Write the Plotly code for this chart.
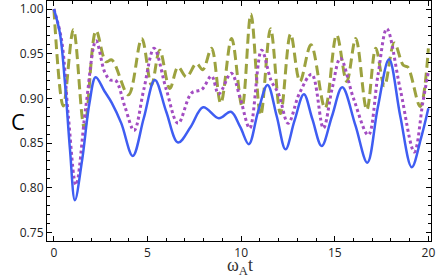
import plotly.graph_objects as go

# ---- data ----
t_blue = [0, 0.32, 0.59, 0.86, 1.12, 1.5, 1.9, 2.23, 2.7, 3.09, 3.6, 4.21, 4.8, 5.39, 6.0, 6.63, 7.3, 7.97, 8.81, 9.45, 9.95, 10.41, 10.9, 11.41, 11.9, 12.37, 12.85, 13.35, 13.8, 14.3, 14.85, 15.4, 16.1, 16.74, 17.3, 17.9, 18.5, 19.11, 19.6, 20.0]
c_blue = [1.0, 0.973, 0.917, 0.842, 0.786, 0.83, 0.895, 0.9236, 0.908, 0.895, 0.872, 0.8356, 0.878, 0.9206, 0.885, 0.8505, 0.868, 0.890, 0.8777, 0.885, 0.868, 0.8487, 0.885, 0.915, 0.88, 0.843, 0.875, 0.9046, 0.877, 0.8467, 0.88, 0.9124, 0.87, 0.828, 0.89, 0.9437, 0.88, 0.823, 0.855, 0.889]

t_purple = [0, 0.41, 0.77, 1.18, 1.7, 2.25, 2.7, 3.0, 3.3, 3.8, 4.28, 4.8, 5.35, 6.0, 6.63, 7.35, 7.9, 8.42, 8.8, 9.47, 9.95, 10.46, 11.09, 11.6, 12.0, 12.51, 13.1, 13.77, 14.39, 14.85, 15.3, 16.0, 16.79, 17.3, 17.78, 18.5, 19.25, 19.7, 20.0]
c_purple = [1.0, 0.965, 0.88, 0.803, 0.89, 0.9645, 0.93, 0.9206, 0.92, 0.89, 0.864, 0.91, 0.956, 0.91, 0.872, 0.906, 0.91, 0.925, 0.905, 0.928, 0.90, 0.8666, 0.954, 0.92, 0.905, 0.872, 0.905, 0.927, 0.8666, 0.91, 0.945, 0.90, 0.859, 0.925, 0.978, 0.91, 0.840, 0.895, 0.930]

t_olive = [0, 0.5, 1.04, 1.63, 2.25, 2.78, 3.09, 3.98, 4.69, 5.21, 5.65, 6.19, 6.63, 7.08, 7.61, 7.95, 8.42, 8.91, 9.49, 10.05, 10.52, 11.04, 11.57, 12.1, 12.64, 13.14, 13.73, 14.48, 15.1, 15.64, 16.12, 16.71, 17.19, 17.65, 18.18, 18.66, 18.9, 19.56, 20.0]
c_olive = [1.0, 0.8915, 0.977, 0.8666, 0.9757, 0.941, 0.943, 0.904, 0.967, 0.915, 0.954, 0.911, 0.935, 0.924, 0.939, 0.932, 0.956, 0.8945, 0.967, 0.891, 0.9944, 0.881, 0.978, 0.883, 0.972, 0.919, 0.960, 0.889, 0.971, 0.919, 0.967, 0.887, 0.956, 0.914, 0.962, 0.937, 0.935, 0.891, 0.956]

x_ticks = [0, 5, 10, 15, 20]
y_ticks = [0.75, 0.80, 0.85, 0.90, 0.95, 1.00]
y_tick_labels = ["0.75", "0.80", "0.85", "0.90", "0.95", "1.00"]

BLUE = "#3F5DF2"
PURPLE = "#A34DC2"
OLIVE = "#9CA23F"

fig = go.Figure()
fig.add_trace(go.Scatter(x=t_olive, y=c_olive, mode="lines",
                         line=dict(color=OLIVE, width=3, dash="10px,5px", shape="spline", smoothing=1.0)))
fig.add_trace(go.Scatter(x=t_purple, y=c_purple, mode="lines",
                         line=dict(color=PURPLE, width=3, dash="3px,3px", shape="spline", smoothing=1.0)))
fig.add_trace(go.Scatter(x=t_blue, y=c_blue, mode="lines",
                         line=dict(color=BLUE, width=2.5, shape="spline", smoothing=1.0)))

axis_common = dict(showgrid=False, zeroline=False, showline=True, linecolor="black", linewidth=1.2,
                   mirror="allticks", ticks="inside", ticklen=5, tickcolor="black", tickwidth=1,
                   automargin=False, ticklabeloverflow="allow",
                   tickfont=dict(family="Open Sans", size=12, color="#222"))

fig.update_xaxes(range=[-0.37, 20.14], tickvals=x_ticks,
                 minor=dict(ticks="inside", dtick=1, ticklen=3, tickcolor="black"),
                 **axis_common)
fig.update_yaxes(range=[0.7403, 1.009], tickvals=y_ticks, ticktext=y_tick_labels,
                 minor=dict(ticks="inside", dtick=0.01, ticklen=3, tickcolor="black"),
                 **axis_common)

fig.add_annotation(text="C", x=-0.1, y=0.50, xref="paper", yref="paper", showarrow=False,
                   font=dict(family="Open Sans", size=22, color="black"))
fig.add_annotation(text="ω<sub>A</sub>t", x=0.503, y=-0.056, yanchor="top", xref="paper", yref="paper",
                   showarrow=False, borderpad=0,
                   font=dict(family="Liberation Serif", size=18, color="#333"))

fig.update_layout(width=437, height=279, margin=dict(l=47, r=6, t=1, b=38, autoexpand=False),
                  paper_bgcolor="white", plot_bgcolor="white", showlegend=False)

fig.write_html("out.html", config={"displayModeBar": False},
               post_script="document.body.style.margin='0';document.body.style.overflow='hidden';")
